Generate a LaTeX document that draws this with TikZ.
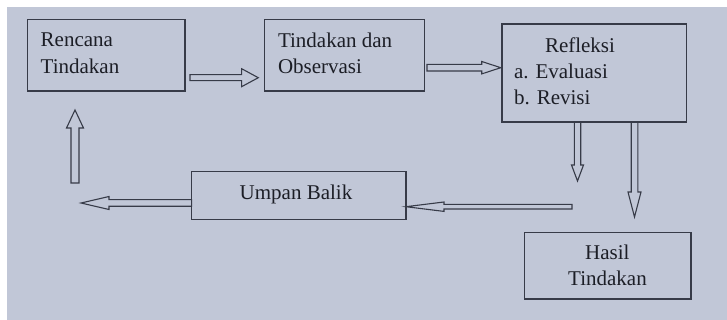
\documentclass[tikz,border=0pt]{standalone}
\usepackage{fontspec}
\setmainfont{Liberation Serif}
\usetikzlibrary{calc}
\definecolor{bgc}{RGB}{193,199,215}
\definecolor{linec}{RGB}{55,59,72}
\definecolor{txtc}{RGB}{28,30,38}
\newcommand\blkE[5]{\draw[blk] let \p1=(#1),\p2=(#2) in (\x1,\y1+#3pt) -- (\x2-#5pt,\y1+#3pt) -- (\x2-#5pt,\y1+#4pt) -- (\x2,\y1) -- (\x2-#5pt,\y1-#4pt) -- (\x2-#5pt,\y1-#3pt) -- (\x1,\y1-#3pt) -- cycle;}
\newcommand\blkW[5]{\draw[blk] let \p1=(#1),\p2=(#2) in (\x1,\y1+#3pt) -- (\x2+#5pt,\y1+#3pt) -- (\x2+#5pt,\y1+#4pt) -- (\x2,\y1) -- (\x2+#5pt,\y1-#4pt) -- (\x2+#5pt,\y1-#3pt) -- (\x1,\y1-#3pt) -- cycle;}
\newcommand\blkS[5]{\draw[blk] let \p1=(#1),\p2=(#2) in (\x1-#3pt,\y1) -- (\x1-#3pt,\y2+#5pt) -- (\x1-#4pt,\y2+#5pt) -- (\x1,\y2) -- (\x1+#4pt,\y2+#5pt) -- (\x1+#3pt,\y2+#5pt) -- (\x1+#3pt,\y1) -- cycle;}
\newcommand\blkN[5]{\draw[blk] let \p1=(#1),\p2=(#2) in (\x1-#3pt,\y1) -- (\x1-#3pt,\y2-#5pt) -- (\x1-#4pt,\y2-#5pt) -- (\x1,\y2) -- (\x1+#4pt,\y2-#5pt) -- (\x1+#3pt,\y2-#5pt) -- (\x1+#3pt,\y1) -- cycle;}
\begin{document}
\begin{tikzpicture}[x=1pt,y=-1pt,
  box/.style={draw=linec,line width=1.2pt,rectangle,inner sep=0pt,outer sep=0pt},
  lbl/.style={inner sep=0pt,outer sep=0pt,text=txtc,font=\fontsize{21}{26}\selectfont},
  blk/.style={draw=linec,line width=1.1pt,line join=miter}]
\useasboundingbox (0,0) rectangle (727,320);
\fill[white] (0,0) rectangle (727,320);
\fill[bgc] (7,7) rectangle (727,320);
% boxes
\node[box,minimum width=157.3pt,minimum height=71.7pt] (b1) at (106.3,55.2) {};
\node[box,minimum width=160pt,minimum height=71.7pt] (b2) at (344.3,55.2) {};
\node[box,minimum width=184.5pt,minimum height=98pt] (b3) at (594.3,73) {};
\node[box,minimum width=214.3pt,minimum height=48pt] (b4) at (298.8,195.5) {};
\node[box,minimum width=166.7pt,minimum height=66.7pt] (b5) at (607.7,265.7) {};
% texts
\node[lbl,anchor=base west] (t1a) at (40.7,46.7) {Rencana};
\node[lbl,anchor=base west] (t1b) at (40.7,73.3) {Tindakan};
\node[lbl,anchor=base west] (t2a) at (278,47.3) {Tindakan dan};
\node[lbl,anchor=base west] (t2b) at (278,73.3) {Observasi};
\node[lbl,anchor=base west] (t3a) at (545,52.3) {Refleksi};
\node[lbl,anchor=base west] (t3b) at (514,78.3) {a. Evaluasi};
\node[lbl,anchor=base west] (t3c) at (514,105) {b. Revisi};
\node[lbl,anchor=base] (t4) at (296,199.3) {Umpan Balik};
\node[lbl,anchor=base] (t5a) at (607.3,259.3) {Hasil};
\node[lbl,anchor=base] (t5b) at (607.5,285) {Tindakan};
% connector end points
\coordinate (a1s) at (190,77.7);
\coordinate (a1e) at ([xshift=-6pt]b2.west);
\coordinate (a2s) at (427,67.7);
\coordinate (a2e) at ([xshift=-1.3pt]b3.west);
\coordinate (a3s) at (75,183);
\coordinate (a3e) at (75,110);
\coordinate (a4s) at (b4.west |- 0,203);
\coordinate (a4e) at (81,203);
\coordinate (a5s) at (572,206.7);
\coordinate (a5e) at (b4.east);
\coordinate (a6s) at (b3.south -| 577.5,0);
\coordinate (a6e) at (577.5,181);
\coordinate (a7s) at (b3.south -| 634.5,0);
\coordinate (a7e) at (634.5,217);
% connectors
\blkE{a1s}{a1e}{3}{9}{16.7}
\blkE{a2s}{a2e}{3.3}{6.2}{19}
\blkN{a3s}{a3e}{4}{8.5}{18}
\blkW{a4s}{a4e}{3.3}{6.5}{28}
\blkW{a5s}{a5e}{2.3}{4.7}{38}
\blkS{a6s}{a6e}{3.2}{6}{16}
\blkS{a7s}{a7e}{3.3}{6.5}{25}
\end{tikzpicture}
\end{document}
